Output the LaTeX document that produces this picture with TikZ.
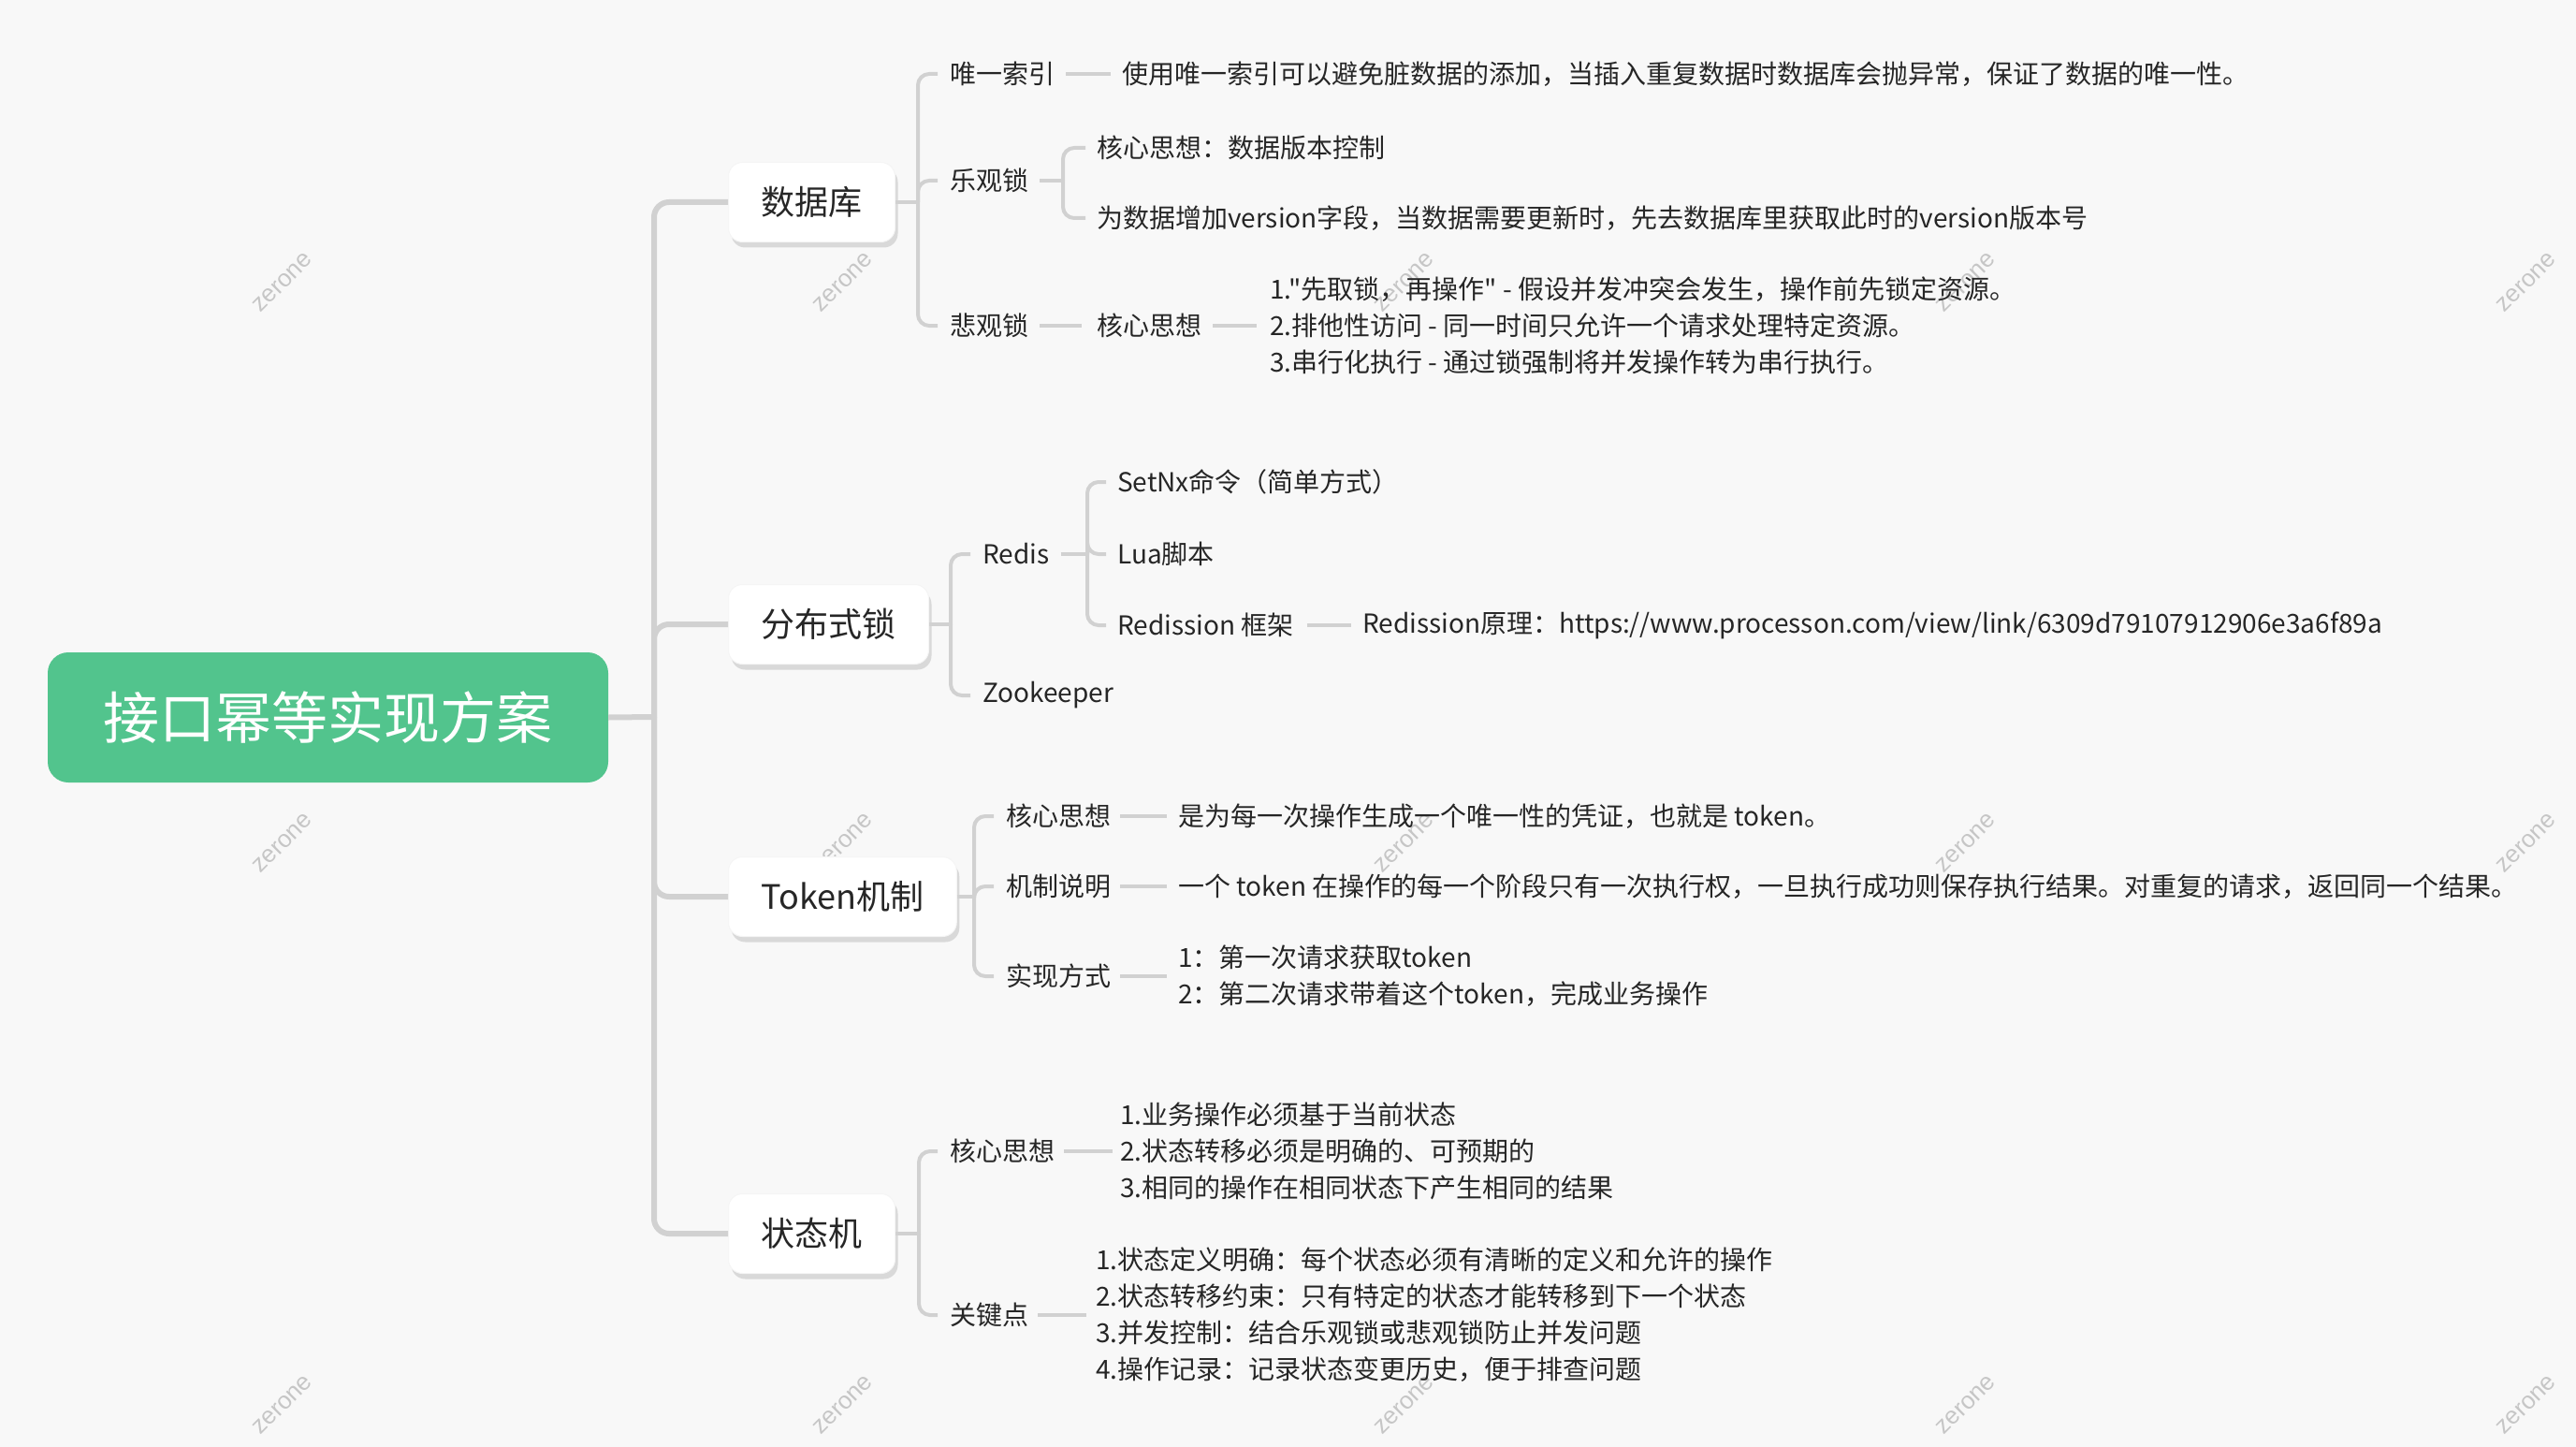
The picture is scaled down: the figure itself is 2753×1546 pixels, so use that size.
\documentclass[tikz,border=0pt]{standalone}
\usepackage{fontspec}
\setmainfont{Noto Sans CJK SC}[Ligatures=TeXOff]
\newfontfamily\wmfont{Liberation Sans}
\usetikzlibrary{shadows}
\definecolor{bg}{HTML}{F8F8F8}
\definecolor{rootgreen}{HTML}{52C48D}
\definecolor{linegray}{HTML}{D1D1D1}
\definecolor{txt}{HTML}{262626}
\definecolor{wm}{HTML}{C6C6C6}
\begin{document}
\begin{tikzpicture}[x=1pt,y=-1pt,
  trunk/.style={draw=linegray, line width=6pt, rounded corners=16pt},
  br/.style={draw=linegray, line width=4pt, rounded corners=12pt},
  rootbox/.style={fill=rootgreen, rounded corners=22pt, minimum width=599pt, minimum height=139pt, text=white, inner sep=0pt, font=\fontsize{60}{72}\selectfont},
  topic/.style={fill=white, draw=black!4, line width=1pt, rounded corners=15pt, minimum height=85pt, inner xsep=35pt, anchor=west, font=\fontsize{36}{44}\selectfont, text=txt, drop shadow={shadow xshift=3pt, shadow yshift=-6pt, fill=black!15, opacity=1}},
  leaf/.style={anchor=west, inner sep=0pt, text=txt, align=left, font=\fontsize{28}{39}\selectfont},
  wmark/.style={text=wm, rotate=45, inner sep=0pt, font=\wmfont\fontsize{26}{28}\selectfont}
]
\useasboundingbox (0,0) rectangle (2753,1546);
\fill[bg] (0,0) rectangle (2753,1546);

% watermarks
\foreach \x in {302,901,1501,2101,2700}
  \foreach \y in {302,901,1501}
    \node[wmark] (wm\x-\y) at (\x,\y) {zerone};

% root
\node[rootbox] (root) at (350.5,766.5) {接口幂等实现方案};
\coordinate (rj) at (699,766);

% level 1
\node[topic] (db) at (778,216) {数据库};
\node[topic] (dl) at (778,667) {分布式锁};
\node[topic] (tk) at (778,958) {Token机制};
\node[topic] (sm) at (778,1318) {状态机};

\draw[trunk] (root.east) -- (rj);
\foreach \n in {db,dl,tk,sm} \draw[trunk] (rj) |- (\n.west);

% ---------- database ----------
\coordinate (dbj) at (981,216);
\node[leaf] (uidx) at (1015,79) {唯一索引};
\node[leaf] (uidxd) at (1199,79) {使用唯一索引可以避免脏数据的添加，当插入重复数据时数据库会抛异常，保证了数据的唯一性。};
\node[leaf] (opt) at (1015,193) {乐观锁};
\coordinate (optj) at (1136,193);
\node[leaf] (optA) at (1172,158) {核心思想：数据版本控制};
\node[leaf] (optB) at (1172,233) {为数据增加version字段，当数据需要更新时，先去数据库里获取此时的version版本号};
\node[leaf] (pes) at (1015,348) {悲观锁};
\node[leaf] (pesk) at (1172,348) {核心思想};
\node[leaf] (pesd) at (1357,348) {1."先取锁，再操作" - 假设并发冲突会发生，操作前先锁定资源。\\2.排他性访问 - 同一时间只允许一个请求处理特定资源。\\3.串行化执行 - 通过锁强制将并发操作转为串行执行。};

\draw[br] (db.east) -- (dbj);
\foreach \n in {uidx,opt,pes} \draw[br] (dbj) |- ([xshift=-13pt]\n.west);
\draw[br] ([xshift=12pt]uidx.east) -- ([xshift=-12pt]uidxd.west);
\draw[br] ([xshift=12pt]opt.east) -- (optj);
\foreach \n in {optA,optB} \draw[br] (optj) |- ([xshift=-12pt]\n.west);
\draw[br] ([xshift=12pt]pes.east) -- ([xshift=-16pt]pesk.west);
\draw[br] ([xshift=12pt]pesk.east) -- ([xshift=-14pt]pesd.west);

% ---------- distributed lock ----------
\coordinate (dlj) at (1016,667);
\node[leaf] (redis) at (1050,592) {Redis};
\node[leaf] (zk) at (1050,743) {Zookeeper};
\coordinate (redisj) at (1162,592);
\node[leaf] (setnx) at (1194,515) {SetNx命令（简单方式）};
\node[leaf] (lua) at (1194,592) {Lua脚本};
\node[leaf] (rdsn) at (1194,668) {Redission 框架};
\node[leaf] (url) at (1456,668) {Redission原理：https://www.processon.com/view/link/6309d79107912906e3a6f89a};

\draw[br] (dl.east) -- (dlj);
\foreach \n in {redis,zk} \draw[br] (dlj) |- ([xshift=-13pt]\n.west);
\draw[br] ([xshift=12pt]redis.east) -- (redisj);
\foreach \n in {setnx,lua,rdsn} \draw[br] (redisj) |- ([xshift=-12pt]\n.west);
\draw[br] ([xshift=14pt]rdsn.east) -- ([xshift=-12pt]url.west);

% ---------- token ----------
\coordinate (tkj) at (1041,958);
\node[leaf] (tkA) at (1075,872) {核心思想};
\node[leaf] (tkAd) at (1259,872) {是为每一次操作生成一个唯一性的凭证，也就是 token。};
\node[leaf] (tkB) at (1075,947) {机制说明};
\node[leaf] (tkBd) at (1259,947) {一个 token 在操作的每一个阶段只有一次执行权，一旦执行成功则保存执行结果。对重复的请求，返回同一个结果。};
\node[leaf] (tkC) at (1075,1043) {实现方式};
\node[leaf] (tkCd) at (1259,1043) {1：第一次请求获取token\\2：第二次请求带着这个token，完成业务操作};

\draw[br] (tk.east) -- (tkj);
\foreach \n in {tkA,tkB,tkC} \draw[br] (tkj) |- ([xshift=-13pt]\n.west);
\draw[br] ([xshift=10pt]tkA.east) -- ([xshift=-12pt]tkAd.west);
\draw[br] ([xshift=10pt]tkB.east) -- ([xshift=-12pt]tkBd.west);
\draw[br] ([xshift=10pt]tkC.east) -- ([xshift=-12pt]tkCd.west);

% ---------- state machine ----------
\coordinate (smj) at (982,1318);
\node[leaf] (smA) at (1015,1230) {核心思想};
\node[leaf] (smAd) at (1197,1230) {1.业务操作必须基于当前状态\\2.状态转移必须是明确的、可预期的\\3.相同的操作在相同状态下产生相同的结果};
\node[leaf] (smB) at (1015,1405) {关键点};
\node[leaf] (smBd) at (1171,1405) {1.状态定义明确：每个状态必须有清晰的定义和允许的操作\\2.状态转移约束：只有特定的状态才能转移到下一个状态\\3.并发控制：结合乐观锁或悲观锁防止并发问题\\4.操作记录：记录状态变更历史，便于排查问题};

\draw[br] (sm.east) -- (smj);
\foreach \n in {smA,smB} \draw[br] (smj) |- ([xshift=-13pt]\n.west);
\draw[br] ([xshift=10pt]smA.east) -- ([xshift=-8pt]smAd.west);
\draw[br] ([xshift=10pt]smB.east) -- ([xshift=-10pt]smBd.west);
\end{tikzpicture}
\end{document}
